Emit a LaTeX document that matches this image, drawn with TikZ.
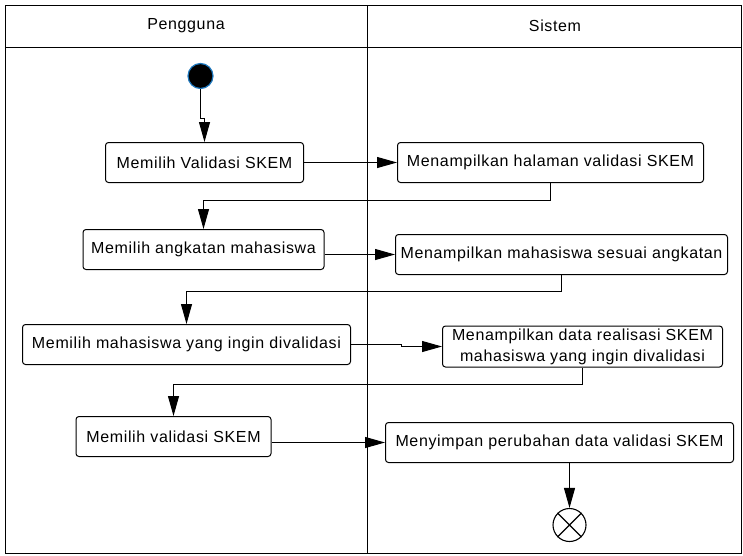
\documentclass[tikz,border=0pt]{standalone}
\usepackage{fontspec}
\setmainfont{Liberation Sans}[LetterSpace=4]
\usetikzlibrary{arrows.meta}
\begin{document}
\begin{tikzpicture}[x=1pt,y=-1pt,
  every node/.style={font=\fontsize{16}{21}\selectfont},
  act/.style={draw, line width=1pt, rounded corners=3pt, inner sep=0pt, align=center},
  flow/.style={line width=1pt, -{Triangle[length=20pt,width=11pt]}},
  lane/.style={line width=1pt}]
\useasboundingbox (0,0) rectangle (743,555);
% swimlane frame
\draw[lane] (5.5,5.5) rectangle (741.5,553.5);
\draw[lane] (5.5,47.5) -- (741.5,47.5);
\draw[lane] (367.5,5.5) -- (367.5,553.5);
\node (h1) at (186,26) {Pengguna};
\node (h2) at (555,26) {Sistem};
% start and end
\node[circle, fill=black, draw={rgb,255:red,30;green,120;blue,190}, line width=1.2pt,
      minimum size=25pt, inner sep=0pt] (s) at (200.5,76) {};
\node[circle, draw, line width=1.1pt, minimum size=33pt, inner sep=0pt] (e) at (569.5,525) {};
\draw[line width=1.1pt] (e.north west) -- (e.south east) (e.north east) -- (e.south west);
% activities
\node[act, minimum width=198pt, minimum height=40pt] (b1) at (204.5,162.5) {Memilih Validasi SKEM};
\node[act, minimum width=306pt, minimum height=40pt] (b2) at (550.5,162.5) {Menampilkan halaman validasi SKEM};
\node[act, minimum width=241pt, minimum height=40pt] (b3) at (203.5,249.5) {Memilih angkatan mahasiswa};
\node[act, minimum width=332pt, minimum height=40pt] (b4) at (561.5,254.5) {Menampilkan mahasiswa sesuai angkatan};
\node[act, minimum width=328pt, minimum height=40pt] (b5) at (186.5,344.5) {Memilih mahasiswa yang ingin divalidasi};
\node[act, minimum width=280pt, minimum height=41pt] (b6) at (582.5,346.5) {Menampilkan data realisasi SKEM\\mahasiswa yang ingin divalidasi};
\node[act, minimum width=195pt, minimum height=40pt] (b7) at (173.5,436.5) {Memilih validasi SKEM};
\node[act, minimum width=348pt, minimum height=40pt] (b8) at (559.5,442.5) {Menyimpan perubahan data validasi SKEM};
% flows
\draw[flow] (s.south) -- ++(0,29) -| (b1.north);
\draw[flow] (b1.east) -- (b2.west);
\draw[flow] (b2.south) -- ++(0,17) -| (b3.north);
\draw[flow] (b3.east |- b4.west) -- (b4.west);
\draw[flow] (b4.south) -- ++(0,16) -| (b5.north);
\draw[flow] (b5.east) -- ++(50,0) |- (b6.west);
\draw[flow] (b6.south) -- ++(0,17) -| (b7.north);
\draw[flow] (b7.east |- b8.west) -- (b8.west);
\draw[flow] (e.north |- b8.south) -- (e.north);
\end{tikzpicture}
\end{document}
